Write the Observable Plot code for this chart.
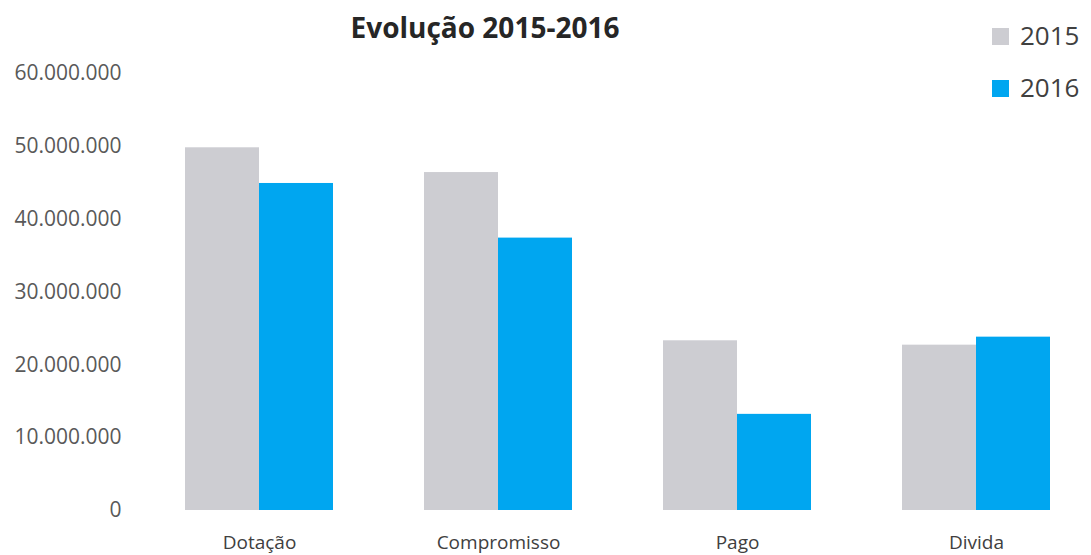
<!DOCTYPE html>
<html>
<head>
<meta charset="utf-8">
<script src="https://cdn.jsdelivr.net/npm/d3@7"></script>
<script src="https://cdn.jsdelivr.net/npm/@observablehq/plot@0.6"></script>
<style>
  html, body { margin: 0; padding: 0; background: #fff; }
  #wrap { position: relative; width: 1091px; height: 555px; font-family: "Open Sans", sans-serif; }
  #title { position: absolute; left: 285px; width: 400px; top: 13px; text-align: center;
           font-weight: bold; font-size: 28px; line-height: 28px; color: #262626; }
  .leg { position: absolute; left: 992px; font-size: 26px; line-height: 26px; color: #404040; white-space: nowrap; }
  .leg span.sw { display: inline-block; width: 17px; height: 17px; margin-right: 11px; vertical-align: 0px; }
  #chart { position: absolute; left: 0; top: 0; }
</style>
</head>
<body>
<div id="wrap">
  <div id="chart"></div>
  <div id="title"></div>
  <div id="legend"></div>
</div>
<script>
const titleText = "Evolução 2015-2016";
const categories = ["Dotação", "Compromisso", "Pago", "Divida"];
const years = ["2015", "2016"];
const colors = ["#cdcdd2", "#00a6f0"];
const values2015 = [49800000, 46400000, 23300000, 22700000];
const values2016 = [44900000, 37400000, 13200000, 23800000];
const yTicks = [0, 10000000, 20000000, 30000000, 40000000, 50000000, 60000000];

const data = [];
categories.forEach((c, i) => {
  data.push({category: c, year: years[0], value: values2015[i]});
  data.push({category: c, year: years[1], value: values2016[i]});
});

const ptFormat = d3.formatLocale({decimal: ",", thousands: ".", grouping: [3], currency: ["", ""]}).format(",");

const chart = Plot.plot({
  width: 1091,
  height: 555,
  marginLeft: 144,
  marginRight: 0,
  marginTop: 73,
  marginBottom: 45,
  style: {fontFamily: "Open Sans, sans-serif", background: "transparent"},
  fx: {domain: categories, paddingInner: 0.381, paddingOuter: 0.171, label: null},
  x: {domain: years, padding: 0, axis: null},
  y: {domain: [0, 60000000], label: null},
  color: {domain: years, range: colors},
  marks: [
    Plot.barY(data, {fx: "category", x: "year", y: "value", fill: "year"}),
    Plot.axisY({ticks: yTicks, tickFormat: ptFormat, tickSize: 0, tickPadding: 64, fontSize: 21, color: "#595959", label: null}),
    Plot.axisFx({anchor: "bottom", tickSize: 0, tickPadding: 25, fontSize: 19, color: "#404040", label: null})
  ]
});
document.getElementById("chart").appendChild(chart);

document.getElementById("title").textContent = titleText;
const legend = document.getElementById("legend");
years.forEach((y, i) => {
  const d = document.createElement("div");
  d.className = "leg";
  d.style.top = (22 + i * 52) + "px";
  const sw = document.createElement("span");
  sw.className = "sw";
  sw.style.background = colors[i];
  d.appendChild(sw);
  d.appendChild(document.createTextNode(y));
  legend.appendChild(d);
});
</script>
</body>
</html>
